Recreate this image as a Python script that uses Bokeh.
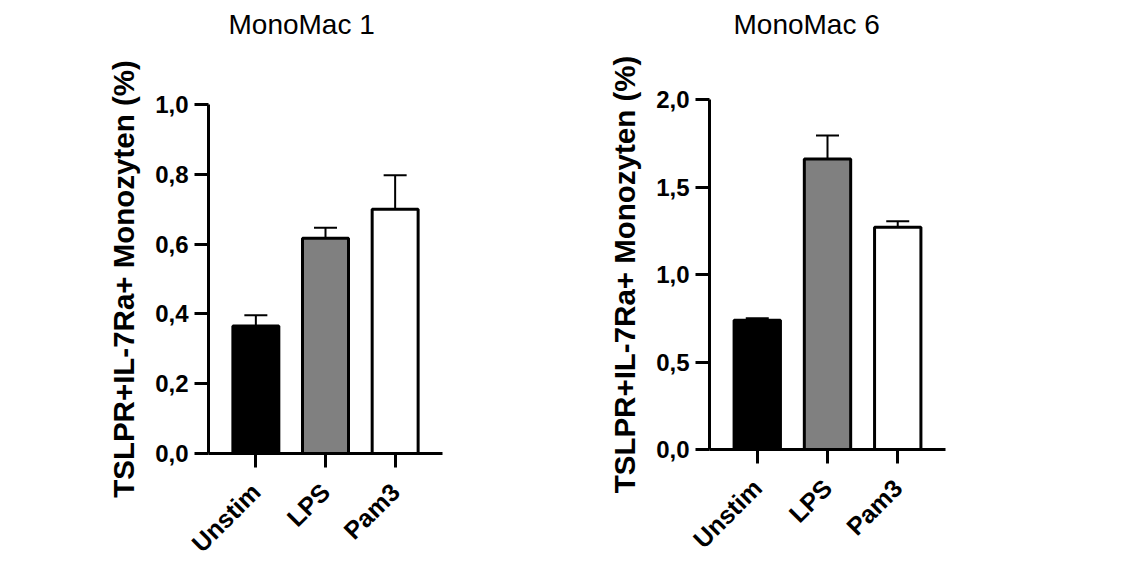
import math
from bokeh.plotting import figure
from bokeh.models import (FactorRange, Range1d, ColumnDataSource, Whisker, TeeHead,
                          FixedTicker, Title, Spacer)
from bokeh.layouts import row, column
from bokeh.embed import file_html
from bokeh.resources import INLINE

# ---- data ----
categories = ["Unstim", "LPS", "Pam3"]
bar_colors = ["#000000", "#808080", "#ffffff"]

mm1_title = "MonoMac 1"
mm1_values = [0.365, 0.617, 0.70]
mm1_errors = [0.031, 0.030, 0.097]
mm1_ticks = [0.0, 0.2, 0.4, 0.6, 0.8, 1.0]
mm1_tick_labels = ["0,0", "0,2", "0,4", "0,6", "0,8", "1,0"]

mm6_title = "MonoMac 6"
mm6_values = [0.739, 1.66, 1.27]
mm6_errors = [0.011, 0.135, 0.035]
mm6_ticks = [0.0, 0.5, 1.0, 1.5, 2.0]
mm6_tick_labels = ["0,0", "0,5", "1,0", "1,5", "2,0"]

y_label = "TSLPR+IL-7Ra+ Monozyten (%)"

FONT = "Liberation Sans"


def make_panel(title, values, errors, ticks, tick_labels, width, height,
               bl, br, bt, bb, title_offset, title_gap):
    src = ColumnDataSource(dict(
        cat=categories,
        val=values,
        upper=[v + e for v, e in zip(values, errors)],
        color=bar_colors,
    ))
    p = figure(
        x_range=FactorRange(*categories, range_padding=0.12),
        y_range=Range1d(0, ticks[-1]),
        width=width, height=height,
        output_backend="svg", toolbar_location=None,
        min_border_left=bl, min_border_right=br,
        min_border_top=bt, min_border_bottom=bb,
        background_fill_color="white", border_fill_color="white",
    )
    p.outline_line_color = None
    p.grid.visible = False

    p.vbar(x="cat", top="val", width=0.66, source=src,
           fill_color="color", line_color="black", line_width=3)
    w = Whisker(base="cat", lower="val", upper="upper", source=src,
                line_width=2, line_color="black",
                upper_head=TeeHead(size=23, line_width=2, line_color="black"),
                lower_head=None)
    p.add_layout(w)

    # title: empty spacer title next to the frame, real title above it
    p.title.text = ""
    spacer = Title(text=" ", text_font_size="1px", standoff=title_gap)
    p.add_layout(spacer, "above")
    t = Title(text=title, text_font=FONT, text_font_size="28px",
              text_font_style="normal", text_color="black",
              align="left", offset=title_offset, standoff=0)
    p.add_layout(t, "above")

    for ax in (p.xaxis[0], p.yaxis[0]):
        ax.axis_line_width = 3
        ax.axis_line_color = "black"
        ax.major_tick_line_width = 3
        ax.major_tick_line_color = "black"
        ax.major_tick_out = 14
        ax.major_tick_in = 0
        ax.minor_tick_line_color = None
        ax.major_label_text_font = FONT
        ax.major_label_text_font_style = "bold"
        ax.major_label_text_color = "black"

    p.yaxis.ticker = FixedTicker(ticks=ticks)
    p.yaxis.major_label_overrides = dict(zip(ticks, tick_labels))
    p.yaxis.major_label_text_font_size = "24px"
    p.yaxis.major_label_standoff = 6
    p.yaxis.axis_label = y_label
    p.yaxis.axis_label_text_font = FONT
    p.yaxis.axis_label_text_font_style = "bold"
    p.yaxis.axis_label_text_font_size = "29.5px"
    p.yaxis.axis_label_text_color = "black"
    p.yaxis.axis_label_standoff = 12

    p.xaxis.major_label_orientation = math.pi / 4
    p.xaxis.major_label_text_font_size = "25px"
    p.xaxis.major_label_standoff = 20
    return p


p1 = make_panel(mm1_title, mm1_values, mm1_errors, mm1_ticks, mm1_tick_labels,
                560, 566, 208, 118, 99, 118, 20, 62)
p2 = make_panel(mm6_title, mm6_values, mm6_errors, mm6_ticks, mm6_tick_labels,
                571, 571, 149, 186, 99, 122, 24, 57)

layout = row(column(Spacer(width=560, height=5), p1), p2)
open("out.html", "w").write(file_html(layout, INLINE))
